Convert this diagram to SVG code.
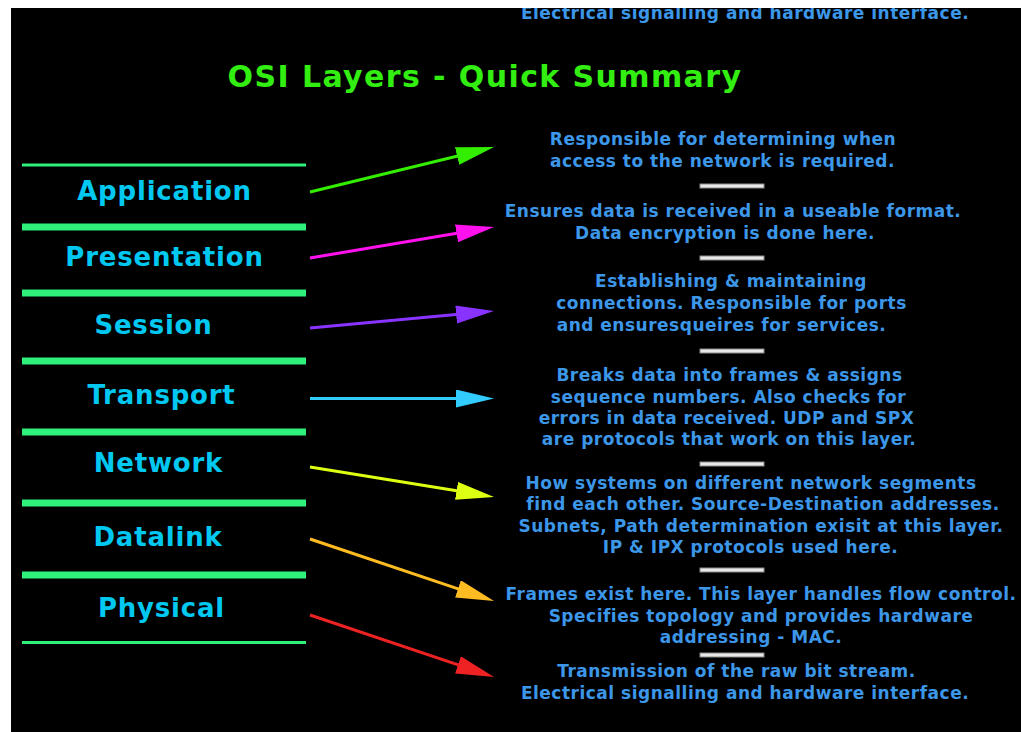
<svg xmlns="http://www.w3.org/2000/svg" width="1021" height="732" viewBox="0 0 1021 732">
<style>
.title{font-family:"DejaVu Sans",Verdana,sans-serif;font-weight:bold;font-size:30px;letter-spacing:1.4px;fill:#33ee11;text-anchor:middle}
.lbl{font-family:"DejaVu Sans",Verdana,sans-serif;font-weight:bold;font-size:26px;letter-spacing:0.8px;fill:#00c8f0;text-anchor:middle}
.desc{font-family:"DejaVu Sans",Verdana,sans-serif;font-weight:bold;font-size:17px;letter-spacing:0.5px;fill:#3d97e8;text-anchor:middle}
.sep{stroke:#2ef07a;stroke-linecap:butt}
.bar{fill:#e8e8e8;stroke:#8a8a8a;stroke-width:1}
.arr{stroke-width:3;fill:none}
</style>
<defs>
<marker id="mGreen" markerUnits="userSpaceOnUse" markerWidth="40" markerHeight="20" refX="8" refY="9" orient="auto"><path d="M0,0 L38,9 L0,18 z" fill="#33ee00"/></marker>
<marker id="mMagenta" markerUnits="userSpaceOnUse" markerWidth="40" markerHeight="20" refX="8" refY="9" orient="auto"><path d="M0,0 L38,9 L0,18 z" fill="#ff11ee"/></marker>
<marker id="mPurple" markerUnits="userSpaceOnUse" markerWidth="40" markerHeight="20" refX="8" refY="9" orient="auto"><path d="M0,0 L38,9 L0,18 z" fill="#8833ff"/></marker>
<marker id="mCyan" markerUnits="userSpaceOnUse" markerWidth="40" markerHeight="20" refX="8" refY="9" orient="auto"><path d="M0,0 L38,9 L0,18 z" fill="#33ccff"/></marker>
<marker id="mYellow" markerUnits="userSpaceOnUse" markerWidth="40" markerHeight="20" refX="8" refY="9" orient="auto"><path d="M0,0 L38,9 L0,18 z" fill="#ddff11"/></marker>
<marker id="mOrange" markerUnits="userSpaceOnUse" markerWidth="40" markerHeight="20" refX="8" refY="9" orient="auto"><path d="M0,0 L38,9 L0,18 z" fill="#ffbb22"/></marker>
<marker id="mRed" markerUnits="userSpaceOnUse" markerWidth="40" markerHeight="20" refX="8" refY="9" orient="auto"><path d="M0,0 L38,9 L0,18 z" fill="#ee2222"/></marker>
</defs>
<rect x="0" y="0" width="1021" height="732" fill="#ffffff"/>
<rect x="11" y="8" width="1010" height="724" fill="#000000"/>
<text class="desc" x="745" y="19">Electrical signalling and hardware interface.</text>
<rect x="0" y="0" width="1021" height="8" fill="#ffffff"/>
<text class="title" x="485" y="87">OSI Layers - Quick Summary</text>

<g id="separators">
<line class="sep" x1="22" y1="165" x2="306" y2="165" stroke-width="3"/>
<line class="sep" x1="22" y1="227" x2="306" y2="227" stroke-width="7"/>
<line class="sep" x1="22" y1="293" x2="306" y2="293" stroke-width="7"/>
<line class="sep" x1="22" y1="361" x2="306" y2="361" stroke-width="7"/>
<line class="sep" x1="22" y1="432" x2="306" y2="432" stroke-width="7"/>
<line class="sep" x1="22" y1="503" x2="306" y2="503" stroke-width="7"/>
<line class="sep" x1="22" y1="575" x2="306" y2="575" stroke-width="7"/>
<line class="sep" x1="22" y1="642.5" x2="306" y2="642.5" stroke-width="3"/>
</g>

<g id="layer-application"><text class="lbl" x="164.5" y="200">Application</text></g>
<g id="layer-presentation"><text class="lbl" x="164.5" y="266">Presentation</text></g>
<g id="layer-session"><text class="lbl" x="153.5" y="334">Session</text></g>
<g id="layer-transport"><text class="lbl" x="161.5" y="404">Transport</text></g>
<g id="layer-network"><text class="lbl" x="158.5" y="472">Network</text></g>
<g id="layer-datalink"><text class="lbl" x="158" y="546">Datalink</text></g>
<g id="layer-physical"><text class="lbl" x="161.5" y="617">Physical</text></g>

<g id="connectors">
<line class="arr" x1="310" y1="192" x2="464.9" y2="154.2" stroke="#33ee00" marker-end="url(#mGreen)"/>
<line class="arr" x1="310" y1="258" x2="464.4" y2="232" stroke="#ff11ee" marker-end="url(#mMagenta)"/>
<line class="arr" x1="310" y1="328" x2="464.1" y2="313.8" stroke="#8833ff" marker-end="url(#mPurple)"/>
<line class="arr" x1="310" y1="398.5" x2="464" y2="398.5" stroke="#33ccff" marker-end="url(#mCyan)"/>
<line class="arr" x1="310" y1="467" x2="464.4" y2="492.1" stroke="#ddff11" marker-end="url(#mYellow)"/>
<line class="arr" x1="310" y1="539" x2="465.6" y2="591.4" stroke="#ffbb22" marker-end="url(#mOrange)"/>
<line class="arr" x1="310" y1="615" x2="465.6" y2="667.4" stroke="#ee2222" marker-end="url(#mRed)"/>
</g>

<g id="desc-application">
<text class="desc" x="723" y="145">Responsible for determining when</text>
<text class="desc" x="722.5" y="166.5">access to the network is required.</text>
</g>
<rect class="bar" x="700" y="184" width="64" height="4"/>
<g id="desc-presentation">
<text class="desc" x="733" y="217">Ensures data is received in a useable format.</text>
<text class="desc" x="725" y="238.5">Data encryption is done here.</text>
</g>
<rect class="bar" x="700" y="256" width="64" height="4"/>
<g id="desc-session">
<text class="desc" x="731" y="287">Establishing &amp; maintaining</text>
<text class="desc" x="731.5" y="308.5">connections. Responsible for ports</text>
<text class="desc" x="721.5" y="330.5">and ensuresqueires for services.</text>
</g>
<rect class="bar" x="700" y="349" width="64" height="4"/>
<g id="desc-transport">
<text class="desc" x="729.5" y="381">Breaks data into frames &amp; assigns</text>
<text class="desc" x="728.5" y="402.5">sequence numbers. Also checks for</text>
<text class="desc" x="726.5" y="424">errors in data received. UDP and SPX</text>
<text class="desc" x="729" y="445">are protocols that work on this layer.</text>
</g>
<rect class="bar" x="700" y="462" width="64" height="4"/>
<g id="desc-network">
<text class="desc" x="751" y="488.5">How systems on different network segments</text>
<text class="desc" x="763" y="510">find each other. Source-Destination addresses.</text>
<text class="desc" x="761" y="531.5">Subnets, Path determination exisit at this layer.</text>
<text class="desc" x="750.5" y="552.5">IP &amp; IPX protocols used here.</text>
</g>
<rect class="bar" x="700" y="568" width="64" height="4"/>
<g id="desc-datalink">
<text class="desc" x="761" y="600">Frames exist here. This layer handles flow control.</text>
<text class="desc" x="761" y="621.5">Specifies topology and provides hardware</text>
<text class="desc" x="751" y="643">addressing - MAC.</text>
</g>
<rect class="bar" x="700" y="653" width="64" height="4"/>
<g id="desc-physical">
<text class="desc" x="736.5" y="677">Transmission of the raw bit stream.</text>
<text class="desc" x="745" y="699">Electrical signalling and hardware interface.</text>
</g>
</svg>
